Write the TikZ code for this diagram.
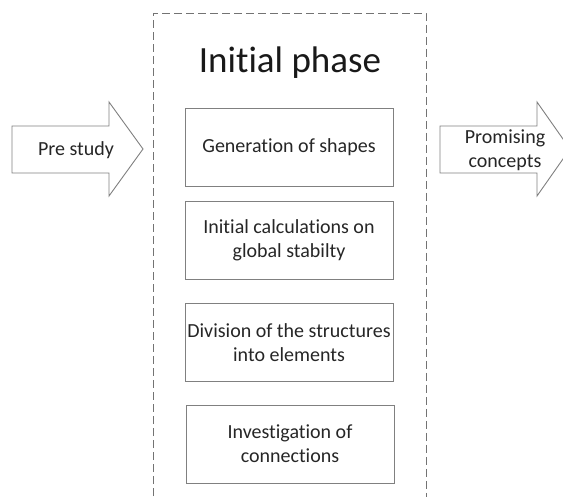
\documentclass[tikz,border=0pt]{standalone}
\usepackage{fontspec}
\setmainfont[RawFeature={-liga;-dlig}]{Carlito}
\begin{document}
\begin{tikzpicture}[x=1pt,y=-1pt,
  line/.style={draw=black!50, line width=0.9pt},
  stepbox/.style={line, minimum width=208pt, minimum height=78pt, inner sep=0pt, align=center,
    font=\fontsize{20}{24}\selectfont, text=black!85},
  lbl/.style={align=center, font=\fontsize{20}{24}\selectfont, text=black!85, inner sep=0pt}]
\useasboundingbox (0,0) rectangle (563,497);
\fill[white] (0,0) rectangle (563,497);
\begin{scope}
\clip (0,0) rectangle (563,497);
% dashed frame
\draw[draw=black!55, line width=0.9pt, dash pattern=on 8pt off 4pt] (153,520) -- (153,13) -- (426,13) -- (426,520);
% left arrow
\draw[line] (12,126) -- (109,126) -- (109,102) -- (143,149) -- (109,196) -- (109,173) -- (12,173) -- cycle;
% right arrow
\draw[line] (440,126) -- (537,126) -- (537,102) -- (570,149) -- (537,196) -- (537,173) -- (440,173) -- cycle;
\end{scope}
\node[lbl] (pre) at (76,150) {Pre study};
\node[lbl] (prom) at (505,150) {Promising\\concepts};
\node[font=\fontsize{37}{44}\selectfont, text=black!90, inner sep=0pt] (title) at (290,63) {Initial phase};
\node[stepbox] (b1) at (289,147) {Generation of shapes};
\node[stepbox] (b2) at (289,240) {Initial calculations on\\global stabilty};
\node[stepbox] (b3) at (289,342.5) {Division of the structures\\into elements};
\node[stepbox] (b4) at (290,444) {Investigation of\\connections};
\end{tikzpicture}
\end{document}
